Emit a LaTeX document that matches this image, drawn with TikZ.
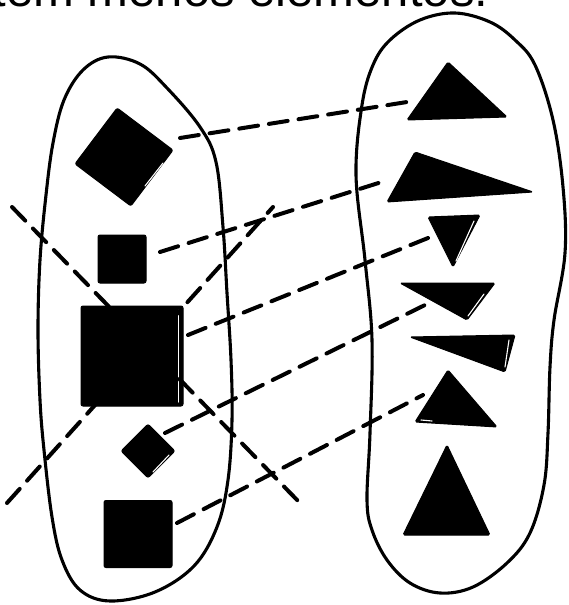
\documentclass[tikz,border=0pt]{standalone}
\usepackage{fontspec}
\setmainfont{Liberation Sans}
\begin{document}
\begin{tikzpicture}[x=1pt,y=-1pt,
  oval/.style={line width=3.1pt, line join=round},
  sq/.style={fill=black, draw=black, line width=1pt, rounded corners=2pt, inner sep=0pt, outer sep=0pt},
  tri/.style={fill=black, draw=black, line width=1pt, rounded corners=1.5pt, line join=round},
  link/.style={line width=4pt, dash pattern=on 19pt off 11pt, line cap=round},
  hl/.style={white, line width=1.1pt, line cap=round}]
\useasboundingbox (0,0) rectangle (569,605);
\fill[white] (0,0) rectangle (569,605);
\clip (0,0) rectangle (569,605);

% title (cut at top)
\node[anchor=base west, inner sep=0pt, font=\fontsize{49}{49}\selectfont] (title) at (-7.6,6.5) {tem menos elementos.};

% left oval
\draw[oval] plot[smooth cycle, tension=0.6] coordinates {
 (108,57) (140,64) (167,88) (200,127) (216,162) (223,227) (227,293) (231,360)
 (232,420) (228,480) (217,527) (194,566) (155,592) (110,601) (80,590) (62,560)
 (52,517) (44,450) (40,400) (38,330) (40,260) (46,195) (53,143) (64,100) (83,70)};

% right oval
\draw[oval] plot[smooth cycle, tension=0.6] coordinates {
 (455,13) (490,22) (515,40) (535,65) (553,120) (563,187) (565,253) (554,320)
 (550,367) (548,433) (544,485) (530,533) (507,563) (473,587) (440,593) (410,583)
 (387,560) (372,530) (367,500) (370,433) (372,340) (365,260) (356,175) (362,105)
 (373,65) (390,40) (420,20)};

% left shapes
\node[sq, minimum size=70pt, rotate=-37] (d1) at (124,157) {};
\node[sq, minimum size=48pt] (s2) at (122,259) {};
\node[sq, minimum width=102pt, minimum height=100pt] (s3) at (132,356) {};
\node[sq, minimum size=38pt, rotate=45] (d4) at (148,451) {};
\node[sq, minimum width=68pt, minimum height=67pt] (s5) at (138,534) {};

% right triangles
\coordinate (t1a) at (448,62);  \coordinate (t1b) at (507,117); \coordinate (t1c) at (407,120);
\coordinate (t2a) at (415,152); \coordinate (t2b) at (533,192); \coordinate (t2c) at (387,202);
\coordinate (t3a) at (428,217); \coordinate (t3b) at (480,215); \coordinate (t3c) at (453,267);
\coordinate (t4a) at (400,283); \coordinate (t4b) at (495,283); \coordinate (t4c) at (467,320);
\coordinate (t5a) at (410,337); \coordinate (t5b) at (515,335); \coordinate (t5c) at (505,372);
\coordinate (t6a) at (448,370); \coordinate (t6b) at (497,427); \coordinate (t6c) at (415,422);
\coordinate (t7a) at (447,445); \coordinate (t7b) at (490,535); \coordinate (t7c) at (403,535);
\foreach \t in {t1,t2,t3,t4,t5,t6,t7}
  \draw[tri] (\t a) -- (\t b) -- (\t c) -- cycle;

% scan highlights
\draw[hl] (145,186) -- (163,163);
\draw[hl] (178.5,310) -- (178.5,402);
\draw[hl] (153,472) -- (169,455);
\draw[hl] (456,261) -- (474,221);
\draw[hl] (468,316) -- (484,294);
\draw[hl] (505,367) -- (509,340);
\draw[hl] (421,420) -- (432,421);

% connector end points
\coordinate (a1) at (180,138); \coordinate (b1) at (407,102);
\coordinate (a2) at (160,252); \coordinate (b2) at (388,180);
\coordinate (a3) at (188,335); \coordinate (b3) at (428,238);
\coordinate (a4) at (165,433); \coordinate (b4) at (425,305);
\coordinate (a5) at (177,523); \coordinate (b5) at (423,395);
\coordinate (x1s) at (12,207); \coordinate (x1e) at (300,503);
\coordinate (x2s) at (7,503);  \coordinate (x2e) at (273,207);

\draw[link] (a1) -- (b1);
\draw[link] (a2) -- (b2);
\draw[link] (a3) -- (b3);
\draw[link] (a4) -- (b4);
\draw[link] (a5) -- (b5);
\draw[link] (x1s) -- (x1e);
\draw[link] (x2s) -- (x2e);
\end{tikzpicture}
\end{document}
